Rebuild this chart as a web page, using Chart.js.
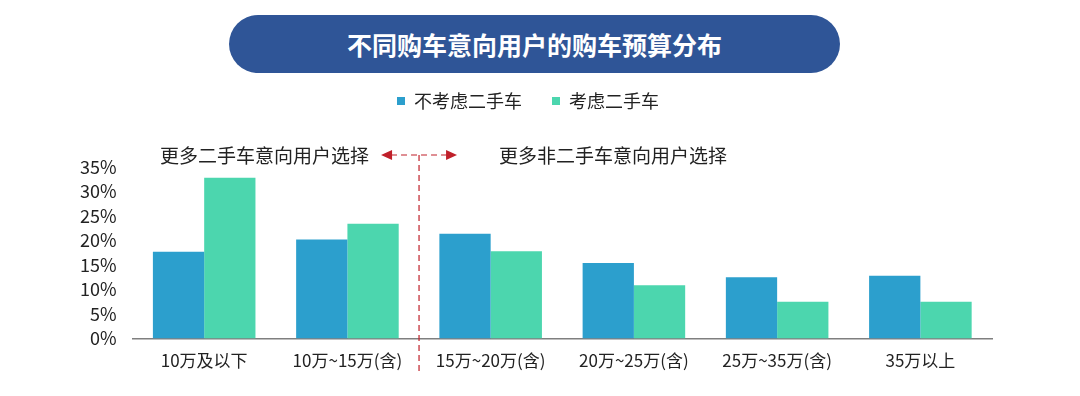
<!DOCTYPE html>
<html>
<head>
<meta charset="utf-8">
<script src="https://cdn.jsdelivr.net/npm/chart.js@4.4.0/dist/chart.umd.min.js"></script>
<style>
  html, body { margin: 0; padding: 0; background: #fff; }
  #wrap { position: relative; width: 1080px; height: 396px; }
  #pill {
    position: absolute; left: 229px; top: 15px; width: 611px; height: 58px;
    border-radius: 29px; background: #2f5597; color: #fff;
    font: bold 25px "Noto Sans CJK SC", sans-serif;
    display: flex; align-items: center; justify-content: center;
  }
  canvas { position: absolute; left: 0; top: 0; }
</style>
</head>
<body>
<div id="wrap">
  <div id="pill">不同购车意向用户的购车预算分布</div>
  <canvas id="myChart" width="1080" height="396"></canvas>
</div>
<script>
let categories = ["10万及以下", "10万~15万(含)", "15万~20万(含)", "20万~25万(含)", "25万~35万(含)", "35万以上"];
let notUsed = [17.7, 20.2, 21.4, 15.4, 12.5, 12.8];
let usedCar = [32.8, 23.4, 17.8, 10.9, 7.5, 7.5];
let seriesNames = ["不考虑二手车", "考虑二手车"];
let barColors = ["#2c9fcd", "#4cd6ae"];
let leftNote = "更多二手车意向用户选择";
let rightNote = "更多非二手车意向用户选择";

const cjk = '"Noto Sans CJK SC", sans-serif';

// 分隔线 + 双向箭头 + 两侧说明文字
const notesPlugin = {
    id: "notes",
    afterDraw(chart) {
        const ctx = chart.ctx;
        const x = chart.scales.x;
        const area = chart.chartArea;
        const mid = (x.getPixelForValue(1) + x.getPixelForValue(2)) / 2;
        const y = area.top - 12;
        ctx.save();
        ctx.strokeStyle = "#c0202a";
        ctx.fillStyle = "#c0202a";
        ctx.lineWidth = 1.2;
        ctx.setLineDash([6, 4]);
        ctx.beginPath();
        ctx.moveTo(mid, y);
        ctx.lineTo(mid, area.bottom + 34);
        ctx.stroke();
        ctx.beginPath();
        ctx.moveTo(mid - 28, y);
        ctx.lineTo(mid + 28, y);
        ctx.stroke();
        ctx.setLineDash([]);
        ctx.beginPath();
        ctx.moveTo(mid - 38, y);
        ctx.lineTo(mid - 27, y - 5);
        ctx.lineTo(mid - 27, y + 5);
        ctx.closePath();
        ctx.fill();
        ctx.beginPath();
        ctx.moveTo(mid + 38, y);
        ctx.lineTo(mid + 27, y - 5);
        ctx.lineTo(mid + 27, y + 5);
        ctx.closePath();
        ctx.fill();

        ctx.fillStyle = "#222";
        ctx.font = "19px " + cjk;
        ctx.textBaseline = "middle";
        ctx.textAlign = "right";
        ctx.fillText(leftNote, mid - 50, y + 1);
        ctx.textAlign = "left";
        ctx.fillText(rightNote, mid + 80, y + 1);
        ctx.restore();
    },
};

// 给图例下方留出说明文字的位置
const legendSpace = {
    id: "legendSpace",
    beforeInit(chart) {
        const fit = chart.legend.fit;
        chart.legend.fit = function () {
            fit.bind(chart.legend)();
            this.height += 47;
        };
    },
};

let chart = new Chart("myChart", {
    type: "bar",
    data: {
        labels: categories,
        datasets: [
            { label: seriesNames[0], data: notUsed, backgroundColor: barColors[0] },
            { label: seriesNames[1], data: usedCar, backgroundColor: barColors[1] },
        ],
    },
    options: {
        responsive: false,
        animation: false,
        layout: { padding: { top: 62, left: 64, right: 88, bottom: 13 } },
        datasets: { bar: { categoryPercentage: 0.716, barPercentage: 1.0 } },
        plugins: {
            tooltip: { enabled: false },
            legend: {
                position: "top",
                labels: {
                    boxWidth: 8,
                    boxHeight: 8,
                    padding: 30,
                    color: "#222",
                    font: { family: cjk, size: 18 },
                },
            },
        },
        scales: {
            x: {
                grid: { display: false, drawTicks: false },
                border: { color: "#7f7f7f", width: 1.5 },
                ticks: {
                    color: "#222",
                    padding: 12,
                    maxRotation: 0,
                    font: { family: cjk, size: 17 },
                },
            },
            y: {
                min: 0,
                max: 35,
                grid: { display: false, drawTicks: false },
                border: { display: false },
                ticks: {
                    stepSize: 5,
                    autoSkip: false,
                    padding: 16,
                    color: "#222",
                    font: { family: cjk, size: 18 },
                    callback: (v) => v + "%",
                },
            },
        },
    },
    plugins: [legendSpace, notesPlugin],
});
</script>
</body>
</html>
